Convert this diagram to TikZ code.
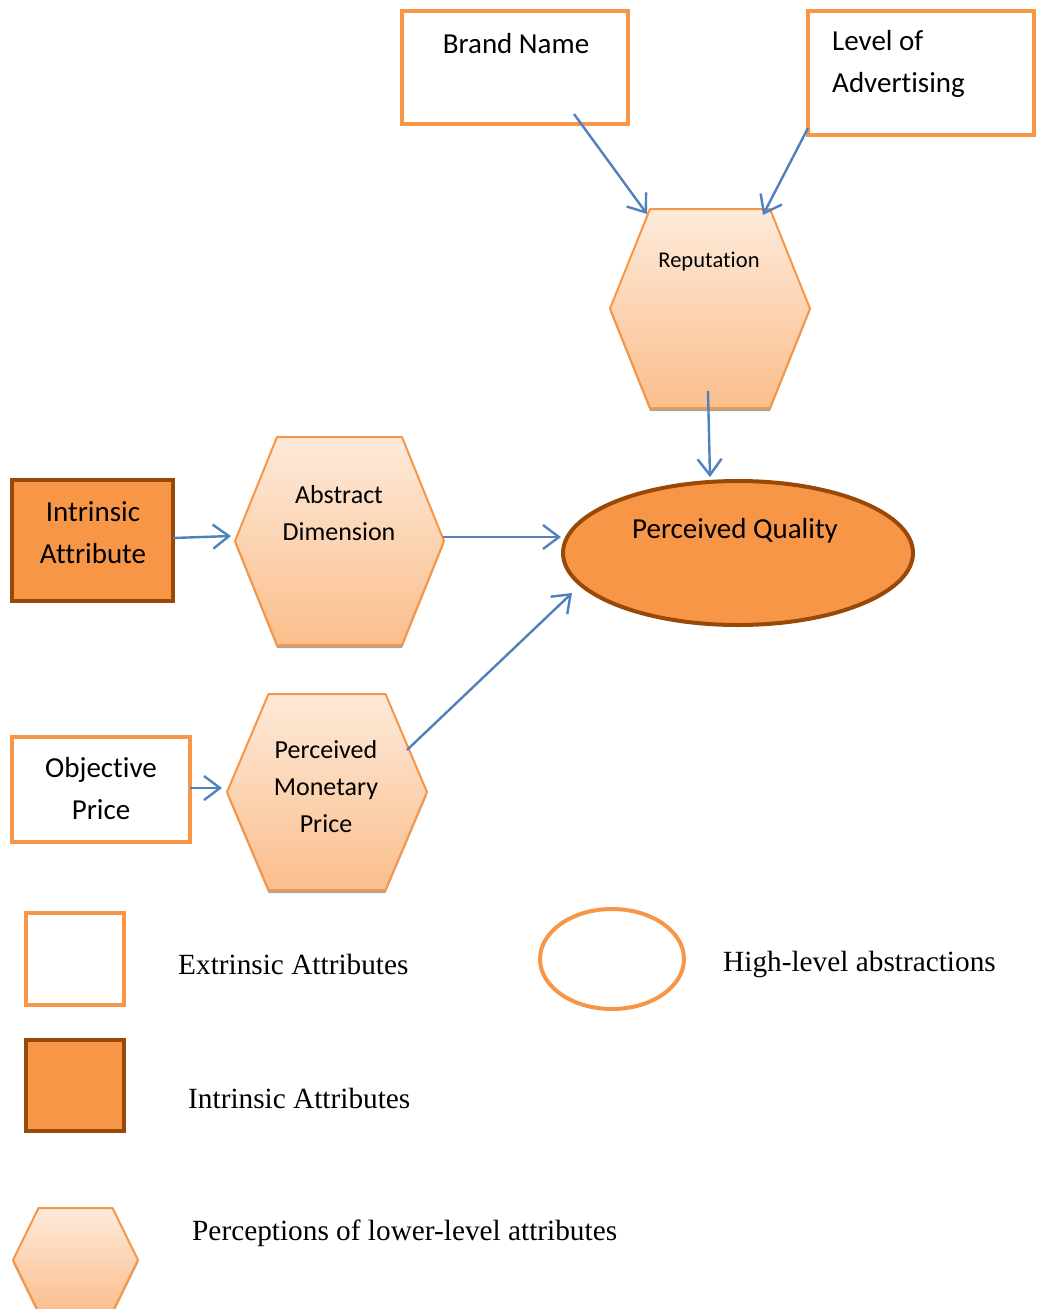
\documentclass[tikz,border=0pt]{standalone}
\usepackage{fontspec}
\setmainfont{Liberation Serif}
\newfontfamily\calfont[Ligatures={NoCommon,NoContextual,NoRequired},RawFeature=-calt]{Carlito}
\usetikzlibrary{arrows.meta}
\definecolor{orng}{RGB}{247,150,70}
\definecolor{brwn}{RGB}{152,72,7}
\definecolor{arrblue}{RGB}{79,129,189}
\definecolor{hextop}{RGB}{253,234,218}
\definecolor{hexbot}{RGB}{251,190,140}
\tikzset{
  extbox/.style={draw=orng, line width=4pt, fill=white},
  intbox/.style={draw=brwn, line width=4pt, fill=orng},
  conn/.style={draw=arrblue, line width=2.4pt, -{Straight Barb[length=16pt,width=24pt]}},
  boxtext/.style={font=\calfont\fontsize{29}{42}\selectfont, align=center, inner sep=0pt},
  hextext/.style={font=\calfont\fontsize{26}{37}\selectfont, align=center, inner sep=0pt},
  leglabel/.style={font=\fontsize{29.3}{35}\selectfont, anchor=west, inner sep=0pt},
}
\newcommand\drawhex[5]{%
  \begin{scope}[shift={(#1,#2)}]
    \fill[black!35] (-#3,-#5+3) -- (#3,-#5+3) -- (#4,3) -- (#3,#5+3) -- (-#3,#5+3) -- (-#4,3) -- cycle;
    \shadedraw[top color=hextop, bottom color=hexbot, draw=orng, line width=2pt, line join=round]
      (-#3,-#5) -- (#3,-#5) -- (#4,0) -- (#3,#5) -- (-#3,#5) -- (-#4,0) -- cycle;
  \end{scope}}
\begin{document}
\begin{tikzpicture}[x=1pt,y=-1pt]
\useasboundingbox[fill=white] (0,0) rectangle (1036,1309);

% boxes
\draw[extbox] (402,11) rectangle (628,124);
\node[boxtext] (brand) at (516,44) {Brand Name};
\draw[extbox] (808,11) rectangle (1034,135);
\node[boxtext, align=left, anchor=west] (level) at (832,64) {Level of\\Advert\kern0pt ising};
\draw[intbox] (12,480) rectangle (173,601);
\node[boxtext] (intr) at (93,533) {Intrinsic\\Attribute};
\draw[extbox] (12,737) rectangle (190,842);
\node[boxtext] (objp) at (101,789) {Objective\\Price};

% hexagons
\drawhex{710}{308.5}{60}{100}{99.5}
\node[font=\calfont\fontsize{22.5}{27}\selectfont, inner sep=0pt] (rep) at (709,262) {Reput\kern0pt ation};
\drawhex{339.5}{541}{62.5}{104.5}{104}
\node[hextext] (absd) at (339,513) {Abstract\\Dimension};
\drawhex{327}{792}{58.5}{100}{98}
\node[hextext] (pmp) at (326,787) {Perceived\\Monetary\\Price};

% perceived quality
\draw[draw=brwn, fill=orng, line width=4pt] (738,553) ellipse [x radius=175, y radius=72];
\node[boxtext] (pq) at (735,531) {Perceived Quality};

% connector end points
\coordinate (b1) at (574,114);
\coordinate (r1) at (647,214);
\coordinate (l1) at (808,128);
\coordinate (r2) at (763,215);
\coordinate (r3) at (708,391);
\coordinate (q1) at (710,477);
\coordinate (i1) at (173,538);
\coordinate (a1) at (231,536);
\coordinate (a2) at (443,537);
\coordinate (q2) at (561,537);
\coordinate (o1) at (190,788);
\coordinate (m1) at (222,788);
\coordinate (m2) at (407,750);
\coordinate (q3) at (572,593);
\draw[conn] (b1) -- (r1);
\draw[conn] (l1) -- (r2);
\draw[conn] (r3) -- (q1);
\draw[conn] (i1) -- (a1);
\draw[conn] (a2) -- (q2);
\draw[conn] (o1) -- (m1);
\draw[conn] (m2) -- (q3);

% legend
\draw[extbox] (26,913) rectangle (124,1005);
\node[leglabel] (lg1) at (178,964) {Extrinsic Attributes};
\draw[draw=orng, fill=white, line width=4pt] (612,959) ellipse [x radius=72, y radius=50];
\node[leglabel] (lg2) at (723,964) {High-level abstractions};
\draw[intbox] (26,1040) rectangle (124,1131);
\node[leglabel] (lg3) at (188,1098) {Intrinsic Attributes};
\drawhex{75.5}{1260}{37}{62.5}{52}
\node[leglabel] (lg4) at (192,1233) {Perceptions of lower-level attributes};
\end{tikzpicture}
\end{document}
